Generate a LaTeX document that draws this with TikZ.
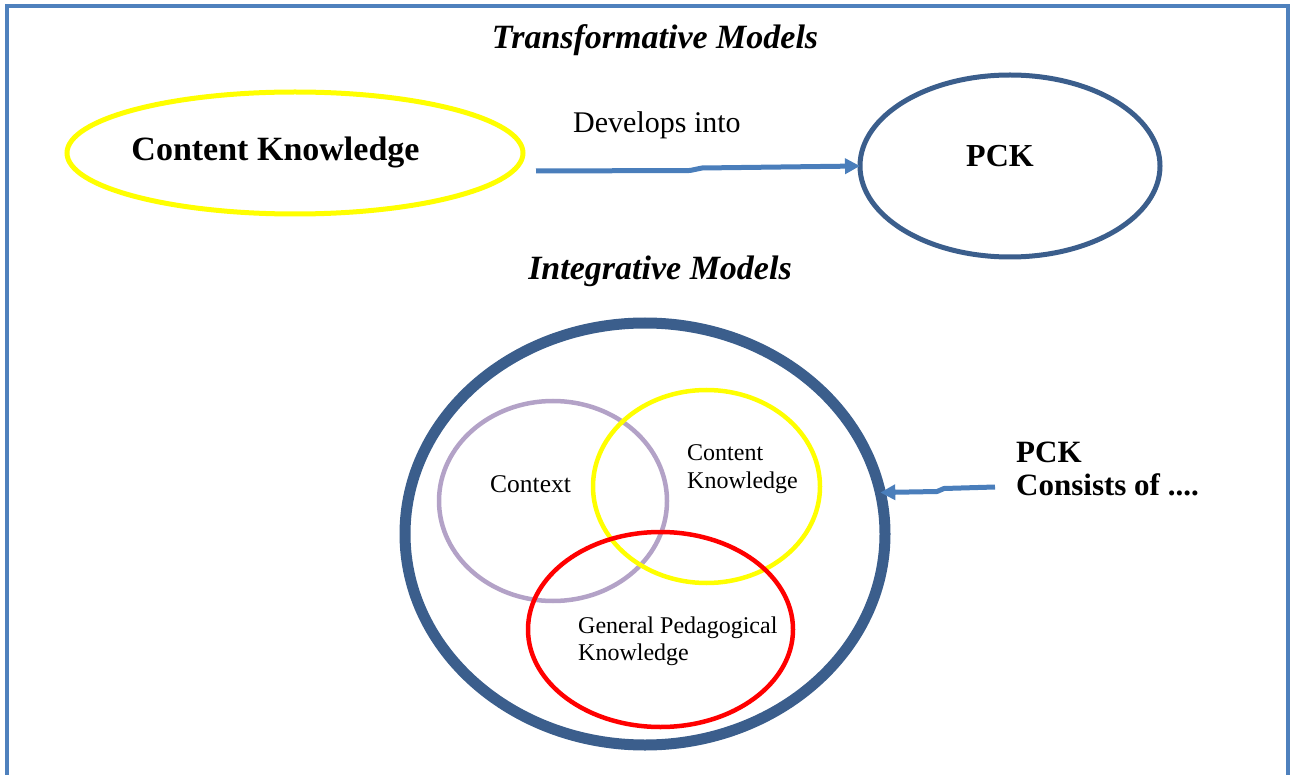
\documentclass[tikz,border=0pt]{standalone}
\usepackage{fontspec}
\setmainfont{Liberation Serif}
\usetikzlibrary{shapes.geometric,arrows.meta}
\definecolor{frameblue}{HTML}{4F81BD}
\definecolor{darkblue}{HTML}{3B5E8C}
\definecolor{arrowblue}{HTML}{4A7EBB}
\definecolor{lavender}{HTML}{B3A2C7}
\definecolor{brightyellow}{HTML}{FFFF00}
\definecolor{brightred}{HTML}{FF0000}
\tikzset{
  oval/.style={ellipse, draw, inner sep=0pt, outer sep=0pt},
  heading/.style={font=\fontsize{34}{40}\selectfont\bfseries\itshape, inner sep=0pt, anchor=base},
  venntext/.style={font=\fontsize{24}{28}\selectfont, inner sep=0pt, anchor=base west},
  conn/.style={draw=arrowblue, line width=5pt, -{Triangle[length=15pt,width=15pt]}},
}
\begin{document}
\begin{tikzpicture}[x=1pt,y=-1pt]
\useasboundingbox (0,0) rectangle (1290,775);
% frame
\draw[frameblue, line width=4.5pt] (7,780) -- (7,6) -- (1288.5,6) -- (1288.5,780);

% transformative models
\node[heading] (t1) at (655,49) {Transformative Models};
\node[oval, draw=brightyellow, line width=5pt, minimum width=456pt, minimum height=122pt] (ck) at (295,153) {};
\node[font=\fontsize{34}{40}\selectfont\bfseries, inner sep=0pt, anchor=base] (ckt) at (275.5,161) {Content Knowledge};
\node[oval, draw=darkblue, line width=5pt, minimum width=300pt, minimum height=182pt] (pck) at (1010,166) {};
\node[font=\fontsize{32}{38}\selectfont\bfseries, inner sep=0pt, anchor=base] (pckt) at (1000,167) {PCK};
\node[font=\fontsize{30}{36}\selectfont, inner sep=0pt, anchor=base west] (dev) at (573,133) {Develops into};
\coordinate (a1) at (536,171);
\draw[conn] (a1) -- (690,170.5) -- (702,168) -- (pck.west);

% integrative models
\node[heading] (t2) at (660,280) {Integrative Models};
\node[oval, draw=darkblue, line width=11pt, minimum width=480pt, minimum height=422pt] (big) at (645,534) {};
\node[oval, draw=lavender, line width=4.5pt, minimum width=228pt, minimum height=200pt] (ctx) at (553,501) {};
\node[oval, draw=brightyellow, line width=4.5pt, minimum width=227pt, minimum height=193pt] (cnt) at (706.5,486.5) {};
\node[oval, draw=brightred, line width=4.5pt, minimum width=265pt, minimum height=195pt] (gpk) at (660.5,629.5) {};
\node[venntext, font=\fontsize{25.5}{30}\selectfont] (ctxt) at (490,492) {Context};
\node[venntext] (cnt1) at (687,460) {Content};
\node[venntext] (cnt2) at (687,488) {Knowledge};
\node[venntext] (gpk1) at (578,633) {General Pedagogical};
\node[venntext] (gpk2) at (578,660) {Knowledge};

\node[font=\fontsize{31}{36}\selectfont\bfseries, inner sep=0pt, anchor=base west] (pck2) at (1016,462) {PCK};
\node[font=\fontsize{31}{36}\selectfont\bfseries, inner sep=0pt, anchor=base west] (cons) at (1016,495) {Consists of ....};
\coordinate (a2) at (995,487);
\draw[conn] (a2) -- (944,488.5) -- (937,491.5) -- (big.10);
\end{tikzpicture}
\end{document}
